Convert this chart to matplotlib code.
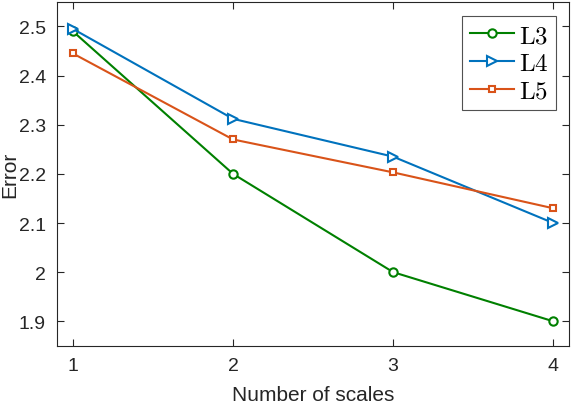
import matplotlib
matplotlib.use("Agg")
import matplotlib.pyplot as plt

scales = [1, 2, 3, 4]
err_l3 = [2.49, 2.20, 2.00, 1.90]
err_l4 = [2.495, 2.312, 2.235, 2.10]
err_l5 = [2.445, 2.27, 2.203, 2.13]
labels = ["L3", "L4", "L5"]

plt.rcParams['font.family'] = ['Liberation Sans', 'DejaVu Sans']
plt.rcParams['mathtext.fontset'] = 'cm'

fig = plt.figure(figsize=(5.75, 4.10), dpi=100)
ax = fig.add_axes([0.099, 0.154, 0.891, 0.839])

ax.plot(scales, err_l3, color='#008000', marker='o', mfc='white', ms=6, mew=1.5, lw=1.5,
        label=r'$\mathrm{%s}$' % labels[0])
ax.plot(scales, err_l4, color='#0072BD', marker='>', mfc='white', ms=7, mew=1.5, lw=1.5,
        label=r'$\mathrm{%s}$' % labels[1])
ax.plot(scales, err_l5, color='#D95319', marker='s', mfc='white', ms=5, mew=1.5, lw=1.5,
        label=r'$\mathrm{%s}$' % labels[2])

ax.set_xlim(0.9, 4.1)
ax.set_ylim(1.85, 2.55)
ax.set_xticks(scales)
ax.set_yticks([1.9, 2.0, 2.1, 2.2, 2.3, 2.4, 2.5])
ax.set_yticklabels(['1.9', '2', '2.1', '2.2', '2.3', '2.4', '2.5'])
ax.tick_params(direction='in', top=True, right=True, length=5, width=0.8,
               colors='#262626', labelsize=14, pad=8)
for s in ax.spines.values():
    s.set_color('#262626')
    s.set_linewidth(0.8)

ax.set_xlabel('Number of scales', fontsize=15, color='#262626', labelpad=8)
ax.set_ylabel('Error', fontsize=15, color='#262626')
ax.yaxis.set_label_coords(-0.074, 0.5)

leg = ax.legend(loc='upper right', fontsize=18, frameon=True, fancybox=False,
                edgecolor='#262626', handlelength=1.75, handletextpad=0.2,
                borderpad=0.3, labelspacing=0.15, borderaxespad=0.55)
leg.get_frame().set_linewidth(0.8)

fig.savefig('out.png', dpi=100)
